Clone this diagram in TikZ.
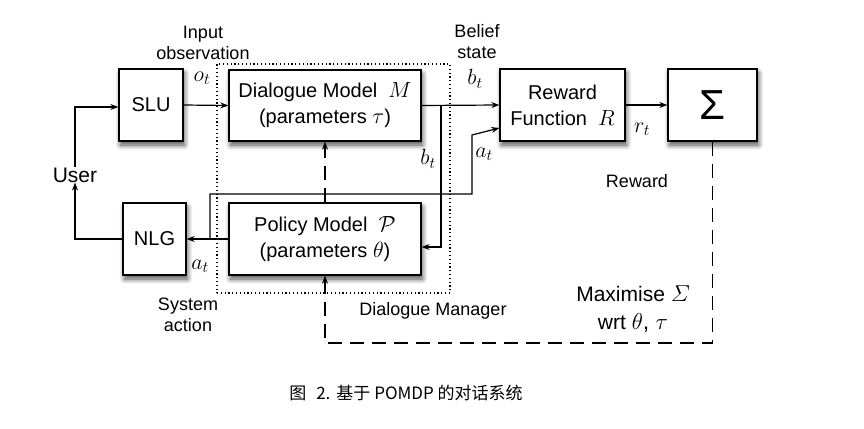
\RequirePackage{fix-cm}
\documentclass[tikz,border=0pt]{standalone}
\usepackage{amsmath}
\usepackage{fontspec}
\setmainfont{Liberation Sans}
\newfontfamily\cjk{Noto Sans CJK SC}
\usetikzlibrary{arrows.meta,shadows.blur}
\newcommand{\vsub}[2]{$#1_{\hbox{\fontsize{16}{16}\selectfont$#2$}}$}
\begin{document}
\begin{tikzpicture}[x=1pt,y=-1pt,
  box/.style={draw, line width=1.3pt, fill=white, align=center, inner sep=0pt,
    font=\fontsize{20}{26}\selectfont,
    blur shadow={shadow xshift=1.5pt, shadow yshift=-4pt, shadow blur steps=8, shadow blur radius=5pt, shadow opacity=70}},
  lab/.style={font=\fontsize{18}{21}\selectfont, align=center, inner sep=0pt},
  var/.style={font=\fontsize{22}{22}\selectfont, inner sep=0pt},
  arr/.style={line width=1.2pt, -{Stealth[length=8pt,width=6pt]}},
  dasharr/.style={line width=1.3pt, dash pattern=on 14pt off 8pt, -{Stealth[length=8pt,width=6pt]}},
  mgrbox/.style={draw, line width=1.2pt, dash pattern=on 1.2pt off 2.6pt, inner sep=0pt}
]
\useasboundingbox (0,0) rectangle (864,428);
% dotted dialogue manager frame
\node[mgrbox, minimum width=233pt, minimum height=229pt] (mgr) at (333.5,178.5) {};
% boxes
\node[box, minimum width=64pt, minimum height=72pt] (slu) at (151,105) {SLU};
\node[box, minimum width=192pt, minimum height=71pt] (dm) at (325,105.5) {Dialogue Model\ \ {\fontsize{22}{22}\selectfont$M$}\\(parameters {\fontsize{22}{22}\selectfont$\tau$})};
\node[box, minimum width=192pt, minimum height=72pt] (pm) at (325,239) {Policy Model\ \ {\fontsize{22}{22}\selectfont$\mathcal{P}$}\\(parameters {\fontsize{22}{22}\selectfont$\theta$})};
\node[box, minimum width=63pt, minimum height=72pt] (nlg) at (154.5,239) {NLG};
\node[box, minimum width=125pt, minimum height=72pt] (rf) at (562.5,105) {Reward\\Function\ \ {\fontsize{22}{22}\selectfont$R$}};
\node[box, minimum width=89pt, minimum height=72pt, font=\fontsize{42}{42}\selectfont] (sig) at (712.5,105) {Σ};
% labels
\node[lab, font=\fontsize{21}{24}\selectfont] (user) at (75,175) {User};
\node[lab] (inobs) at (203,43) {Input\\observation};
\node[var] (ot) at (202,78) {\vsub{o}{t}};
\node[lab] (belief) at (477,42) {Belief\\state};
\node[var] (bt1) at (475,79) {\vsub{b}{t}};
\node[var] (bt2) at (428,159) {\vsub{b}{t}};
\node[var] (at1) at (484,154) {\vsub{a}{t}};
\node[var] (rt) at (642,129) {\vsub{r}{t}};
\node[var] (at2) at (200,266) {\vsub{a}{t}};
\node[lab] (sysact) at (188,315) {System\\action};
\node[lab] (dmgr) at (433,311) {Dialogue Manager};
\node[lab] (rew) at (637,181) {Reward};
\node[lab, font=\fontsize{21}{28}\selectfont] (maxi) at (633,309) {Maximise {\fontsize{23}{23}\selectfont$\varSigma$}\\wrt {\fontsize{23}{23}\selectfont$\theta$, $\tau$}};
\node[lab, font=\fontsize{17}{20}\selectfont\cjk] (cap) at (406,393) {图\hspace{10pt}2.\hspace{6pt}基于 POMDP 的对话系统};
% connectors
\coordinate (j1) at (441,105.5);
\coordinate (j2) at (210,239);
\coordinate (k1) at (472,194);
\coordinate (k2) at (472,135);
\coordinate (d1) at (325,343);
\draw[arr] (user.north) |- ([yshift=-2pt]slu.west);
\draw[arr] (nlg.west) -| (user.south);
\draw[arr] (slu.east) -- (dm.west);
\draw[arr] (dm.east) -- (rf.west);
\draw[arr] (j1) |- ([yshift=-8pt]pm.east);
\draw[arr] (pm.west) -- (nlg.east);
\draw[arr] (j2) |- (k1) -- (k2) -- ([yshift=-23pt]rf.west);
\draw[dasharr] (pm.north) -- (dm.south);
\draw[arr] (rf.east) -- (sig.west);
\draw[dasharr] (sig.south) |- (d1) -- (pm.south);
\end{tikzpicture}
\end{document}
